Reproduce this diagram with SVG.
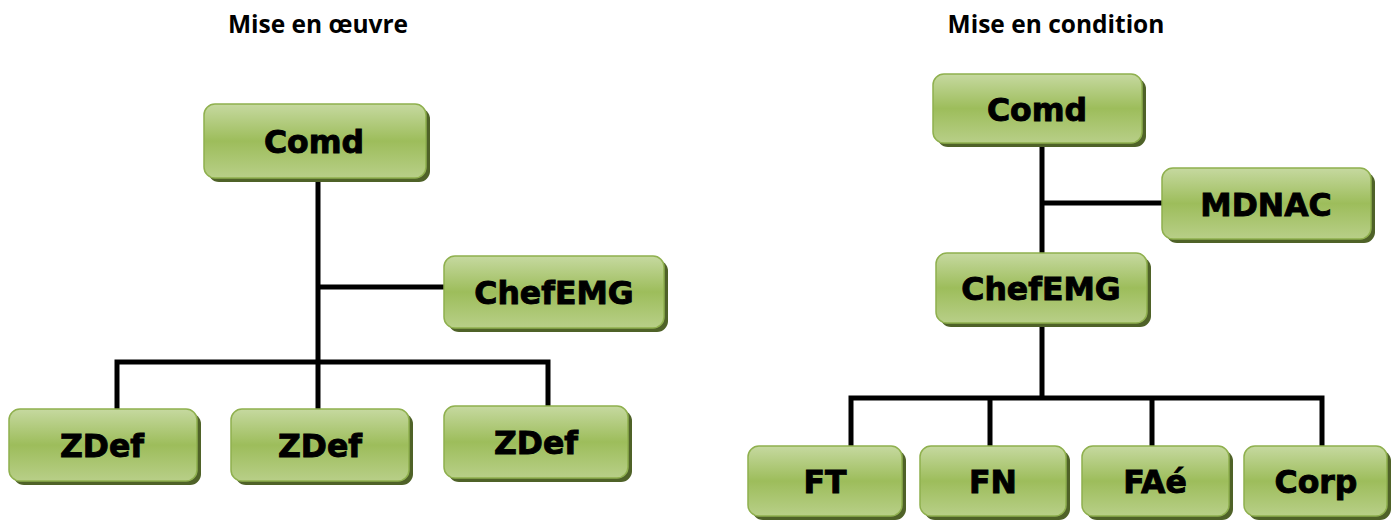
<svg xmlns="http://www.w3.org/2000/svg" width="1395" height="520" viewBox="0 0 1395 520">
<defs>
<linearGradient id="g" x1="0" y1="0" x2="0" y2="1">
<stop offset="0" stop-color="#c6d9a0"/>
<stop offset="0.5" stop-color="#9dbd5b"/>
<stop offset="1" stop-color="#b8cf88"/>
</linearGradient>
<style>
.sh{fill:#4f6228}
.bx{fill:url(#g);stroke:#8fb04e;stroke-width:1.5}
.lb{font-family:"DejaVu Sans",Verdana,sans-serif;font-weight:bold;font-size:31.5px;fill:#000;stroke:#000;stroke-width:0.9;text-anchor:middle}
.tt{font-family:"Open Sans","Liberation Sans",sans-serif;font-weight:bold;font-size:24.5px;fill:#000;text-anchor:middle}
.ln{stroke:#000;stroke-width:5;fill:none}
</style>
</defs>
<rect width="1395" height="520" fill="#fff"/>
<text class="tt" x="318" y="33">Mise en œuvre</text>
<text class="tt" x="1056" y="33">Mise en condition</text>
<g id="connectors">
<path class="ln" d="M318 178V409M318 287H446M117 409V362H548V406"/>
<path class="ln" d="M1042 143V253M1042 203H1164M1042 323V398M851 446V398H1322V446M990 398V446M1152 398V446"/>
</g>
<g id="left-comd"><rect class="sh" x="208" y="108" width="222" height="74" rx="11"/><rect class="bx" x="204" y="104" width="222" height="74" rx="11"/><text class="lb" x="314" y="153">Comd</text></g>
<g id="left-chefemg"><rect class="sh" x="448" y="260" width="220" height="72" rx="11"/><rect class="bx" x="444" y="256" width="220" height="72" rx="11"/><text class="lb" x="554" y="304">ChefEMG</text></g>
<g id="left-zdef1"><rect class="sh" x="13" y="413" width="188" height="72" rx="11"/><rect class="bx" x="9" y="409" width="188" height="72" rx="11"/><text class="lb" x="102" y="457">ZDef</text></g>
<g id="left-zdef2"><rect class="sh" x="235" y="413" width="178" height="72" rx="11"/><rect class="bx" x="231" y="409" width="178" height="72" rx="11"/><text class="lb" x="320" y="457">ZDef</text></g>
<g id="left-zdef3"><rect class="sh" x="448" y="410" width="184" height="72" rx="11"/><rect class="bx" x="444" y="406" width="184" height="72" rx="11"/><text class="lb" x="536" y="454">ZDef</text></g>
<g id="right-comd"><rect class="sh" x="937" y="78" width="209" height="69" rx="11"/><rect class="bx" x="933" y="74" width="209" height="69" rx="11"/><text class="lb" x="1037" y="121">Comd</text></g>
<g id="right-mdnac"><rect class="sh" x="1166" y="172" width="209" height="71" rx="11"/><rect class="bx" x="1162" y="168" width="209" height="71" rx="11"/><text class="lb" x="1266" y="216">MDNAC</text></g>
<g id="right-chefemg"><rect class="sh" x="940" y="257" width="211" height="70" rx="11"/><rect class="bx" x="936" y="253" width="211" height="70" rx="11"/><text class="lb" x="1041" y="300">ChefEMG</text></g>
<g id="right-ft"><rect class="sh" x="752" y="450" width="154" height="70" rx="11"/><rect class="bx" x="748" y="446" width="154" height="70" rx="11"/><text class="lb" x="825" y="493">FT</text></g>
<g id="right-fn"><rect class="sh" x="924" y="450" width="146" height="70" rx="11"/><rect class="bx" x="920" y="446" width="146" height="70" rx="11"/><text class="lb" x="993" y="493">FN</text></g>
<g id="right-fae"><rect class="sh" x="1086" y="450" width="147" height="70" rx="11"/><rect class="bx" x="1082" y="446" width="147" height="70" rx="11"/><text class="lb" x="1155" y="493">FAé</text></g>
<g id="right-corp"><rect class="sh" x="1248" y="450" width="143" height="70" rx="11"/><rect class="bx" x="1244" y="446" width="143" height="70" rx="11"/><text class="lb" x="1316" y="493">Corp</text></g>
</svg>
